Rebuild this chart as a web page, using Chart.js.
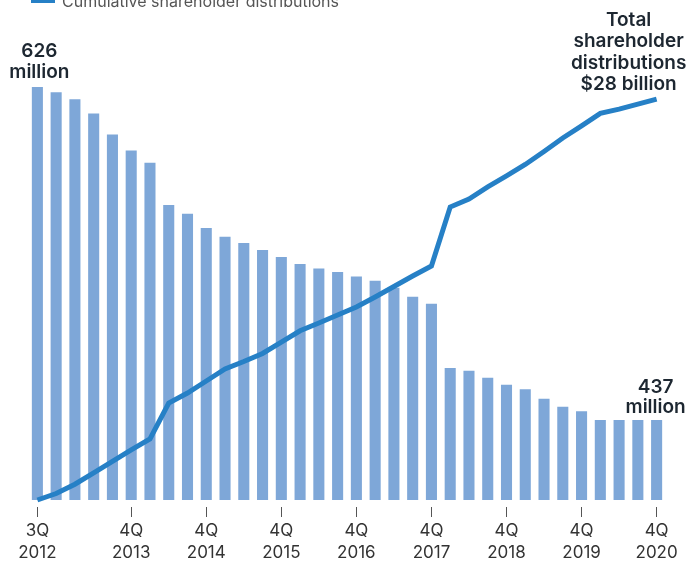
<!DOCTYPE html>
<html><head><meta charset="utf-8">
<script src="https://cdn.jsdelivr.net/npm/chart.js@4"></script>
<style>
html,body{margin:0;padding:0;background:#fff;overflow:hidden;width:687px;height:561px}
#wrap{position:absolute;left:0;top:-14px;width:687px;height:575px}
</style></head><body>
<div id="wrap"><canvas id="c"></canvas></div>
<script>
const QUARTERS=['3Q 2012','4Q 2012','1Q 2013','2Q 2013','3Q 2013','4Q 2013','1Q 2014','2Q 2014','3Q 2014','4Q 2014',
  '1Q 2015','2Q 2015','3Q 2015','4Q 2015','1Q 2016','2Q 2016','3Q 2016','4Q 2016','1Q 2017','2Q 2017','3Q 2017','4Q 2017',
  '1Q 2018','2Q 2018','3Q 2018','4Q 2018','1Q 2019','2Q 2019','3Q 2019','4Q 2019','1Q 2020','2Q 2020','3Q 2020','4Q 2020'];
// shares outstanding, millions
const SHARES=[626,623,619,611,599,590,583,559,554,546,541,537.5,533.5,529.5,525.5,523,521,518.5,516,512,507,503,
  466.5,465,461,457,454.5,449,444.5,442,437,437,437,437];
// cumulative shareholder distributions, $ billion
const DISTRIBUTIONS=[0,0.45,1.1,1.9,2.7,3.5,4.26,6.77,7.47,8.31,9.15,9.67,10.23,11.03,11.82,12.36,12.92,13.48,14.18,14.91,15.64,16.34,
  20.46,21.02,21.86,22.63,23.43,24.34,25.28,26.12,27.0,27.3,27.65,28];
const TICKS=['3Q 2012','4Q 2013','4Q 2014','4Q 2015','4Q 2016','4Q 2017','4Q 2018','4Q 2019','4Q 2020'];
const LEGEND='Cumulative shareholder distributions';

const BAR='#7ea7d8', LINE='#2680c6', INK='#1d2731';

const notes={id:'notes',afterDatasetsDraw(ch){
  const c=ch.ctx, x=ch.scales.x, y=ch.scales.y, y2=ch.scales.y2, n=SHARES.length-1;
  c.save();
  // legend (cut off at top like the original)
  c.fillStyle=LINE; c.fillRect(31,7,24,10);
  c.fillStyle='#555'; c.font='16px Inter'; c.textAlign='left'; c.textBaseline='alphabetic';
  c.fillText(LEGEND,62,20.5);
  c.font='600 19px Inter'; c.fillStyle=INK; c.textAlign='center';
  let px=x.getPixelForValue(0)+2, py=y.getPixelForValue(SHARES[0]);
  c.fillText(String(SHARES[0]),px,py-30); c.fillText('million',px,py-9);
  px=x.getPixelForValue(n)-1; py=y.getPixelForValue(SHARES[n]);
  c.fillText(String(SHARES[n]),px,py-27); c.fillText('million',px,py-7);
  px=x.getPixelForValue(n)-28; py=y2.getPixelForValue(DISTRIBUTIONS[n]);
  ['Total','shareholder','distributions','$'+DISTRIBUTIONS[n]+' billion'].forEach((t,i)=>c.fillText(t,px,py-73+i*21.3));
  c.restore();
}};

new Chart(document.getElementById('c'),{
  type:'bar',
  data:{labels:QUARTERS,datasets:[
    {type:'line',data:DISTRIBUTIONS,yAxisID:'y2',borderColor:LINE,borderWidth:5,pointRadius:0,tension:0,order:0,clip:false},
    {data:SHARES,yAxisID:'y',backgroundColor:BAR,barPercentage:0.59,categoryPercentage:1,order:1}
  ]},
  options:{
    responsive:true,maintainAspectRatio:false,animation:false,devicePixelRatio:1,
    layout:{padding:{top:34,left:28,right:21,bottom:0}},
    plugins:{legend:{display:false},tooltip:{enabled:false}},
    scales:{
      x:{
        grid:{offset:false,drawOnChartArea:false,tickLength:17,tickWidth:1,tickBorderDash:[0,7,10,100],
          tickColor:ctx=>TICKS.includes(QUARTERS[ctx.index])?'#555':'rgba(0,0,0,0)'},
        border:{display:false},
        ticks:{autoSkip:false,maxRotation:0,minRotation:0,padding:3,color:'#333',
          font:{family:'Inter',size:17,lineHeight:1.3},
          callback:(v,i)=>TICKS.includes(QUARTERS[i])?QUARTERS[i].split(' '):''},
        afterFit:a=>{a.height=61;}
      },
      y:{display:false,min:391.6,max:664},
      y2:{display:false,position:'right',min:0,max:33.52}
    }
  },
  plugins:[notes]
});
</script>
</body></html>
